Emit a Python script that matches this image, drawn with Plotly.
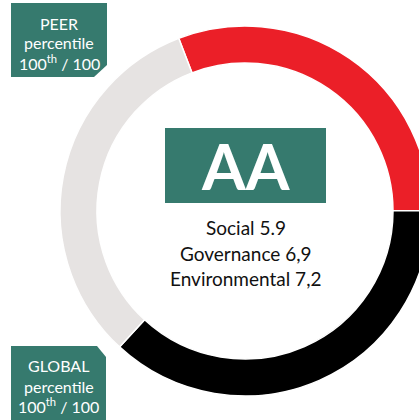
import plotly.graph_objects as go

# Data
segment_labels = ["Red segment", "Black segment", "Grey segment"]
segment_values = [30.8, 36.9, 32.3]
segment_colors = ["#EB1F28", "#000000", "#E6E3E2"]

rating = "AA"
score_lines = ["Social 5.9", "Governance 6,9", "Environmental 7,2"]
peer_label = ["PEER", "percentile", "100<sup>th</sup> / 100"]
global_label = ["GLOBAL", "percentile", "100<sup>th</sup> / 100"]

W, H = 440, 420
TEAL = "#367A6E"
FONT = "Lato"

def px(x):
    return x / W

def py(y):
    return 1 - y / H

fig = go.Figure(go.Pie(
    labels=segment_labels,
    values=segment_values,
    marker=dict(colors=segment_colors, line=dict(color="white", width=1.5)),
    hole=0.8,
    sort=False,
    direction="clockwise",
    rotation=-21,
    textinfo="none",
    hoverinfo="label+value",
    domain=dict(x=[px(60), px(430)], y=[py(396), py(26)]),
    showlegend=False,
))

def poly(points):
    d = "M " + " L ".join(f"{px(a):.5f},{py(b):.5f}" for a, b in points) + " Z"
    return dict(type="path", xref="paper", yref="paper", path=d,
                fillcolor=TEAL, line=dict(width=0), layer="above")

shapes = [
    dict(type="rect", xref="paper", yref="paper",
         x0=px(165), x1=px(326), y0=py(203), y1=py(128),
         fillcolor=TEAL, line=dict(width=0), layer="above"),
    poly([(11, 3), (107, 3), (107, 65), (94, 77), (11, 77)]),
    poly([(11, 346), (97, 346), (106, 357), (106, 425), (11, 425)]),
]

annotations = []
annotations.append(dict(text=f"<b>{rating}</b>", x=px(245.5), y=py(166), xref="paper", yref="paper",
                        showarrow=False, xanchor="center", yanchor="middle",
                        font=dict(family=FONT, size=63, color="white")))
for i, t in enumerate(score_lines):
    annotations.append(dict(text=t, x=px(245.5), y=py(228 + 25 * i), xref="paper", yref="paper",
                            showarrow=False, xanchor="center", yanchor="middle",
                            font=dict(family=FONT, size=19, color="#111111")))
for t, yy in zip(peer_label, [23, 43, 62]):
    annotations.append(dict(text=t, x=px(59), y=py(yy), xref="paper", yref="paper",
                            showarrow=False, xanchor="center", yanchor="middle",
                            font=dict(family=FONT, size=16, color="white")))
for t, yy in zip(global_label, [365, 386, 405]):
    annotations.append(dict(text=t, x=px(58.5), y=py(yy), xref="paper", yref="paper",
                            showarrow=False, xanchor="center", yanchor="middle",
                            font=dict(family=FONT, size=16, color="white")))

fig.update_layout(
    width=W, height=H,
    margin=dict(l=0, r=0, t=0, b=0),
    paper_bgcolor="white", plot_bgcolor="white",
    shapes=shapes, annotations=annotations,
    font=dict(family=FONT),
)

fig.write_html(
    "out.html",
    config={"displayModeBar": False},
    post_script=(
        "document.body.style.margin='0';"
        "document.body.style.overflow='hidden';"
        "document.documentElement.style.overflow='hidden';"
    ),
)
